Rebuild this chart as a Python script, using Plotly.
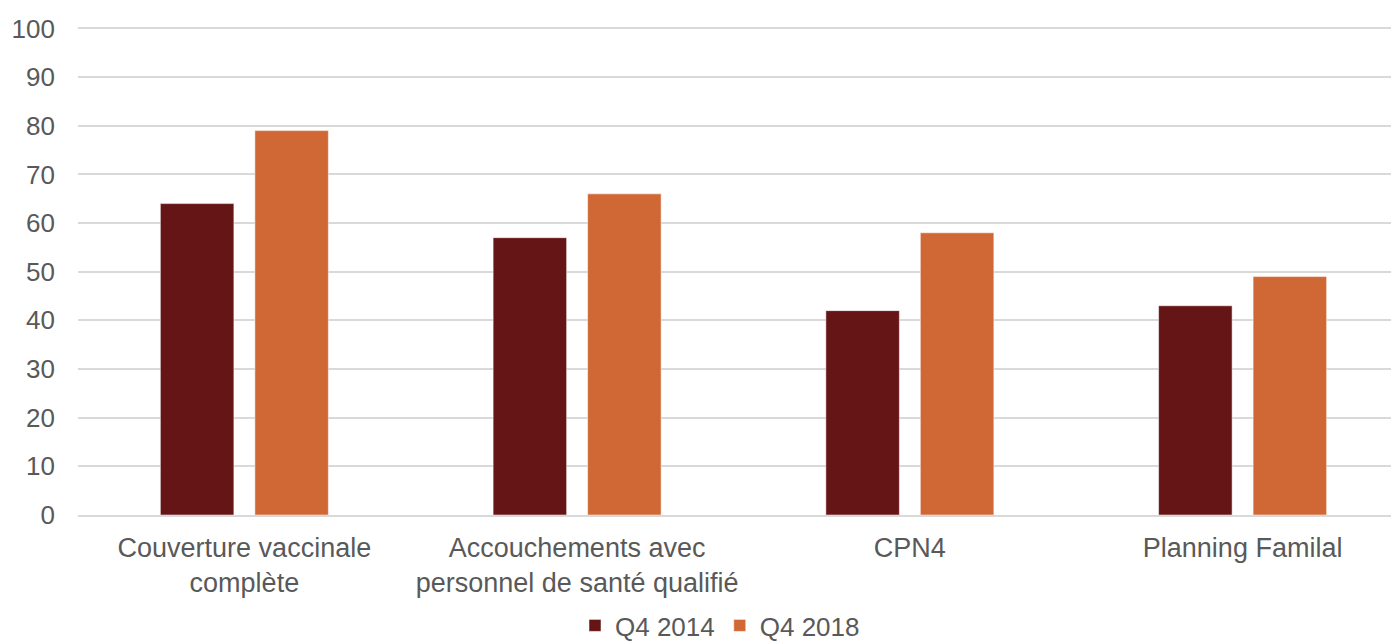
import plotly.graph_objects as go

categories = ["Couverture vaccinale<br>complète",
              "Accouchements avec<br>personnel de santé qualifié",
              "CPN4",
              "Planning Familal"]
series_names = ["Q4 2014", "Q4 2018"]
values_2014 = [64, 57, 42, 43]
values_2018 = [79, 66, 58, 49]
colors = ["#661517", "#D06835"]
y_ticks = list(range(0, 101, 10))

FONT = "Arial, 'Liberation Sans', sans-serif"
GREY = "#595959"

fig = go.Figure()
for name, vals, col in zip(series_names, [values_2014, values_2018], colors):
    fig.add_trace(go.Bar(
        x=categories, y=vals, name=name,
        marker=dict(color=col, line=dict(color="rgba(255,255,255,0.5)", width=1)),
    ))

fig.update_layout(
    width=1391, height=634,
    margin=dict(l=70, r=0, t=17.6, b=127, autoexpand=False),
    paper_bgcolor="white", plot_bgcolor="white",
    barmode="group", bargap=0.432, bargroupgap=0.222,
    font=dict(family=FONT, size=26, color=GREY),
    showlegend=True,
    legend=dict(orientation="h", x=0.486, xanchor="center", y=-0.226, yanchor="middle",
                font=dict(size=26, color=GREY), bgcolor="rgba(0,0,0,0)"),
    xaxis=dict(range=[-0.5, 3.47], showgrid=False, showline=True, linecolor="#d9d9d9",
               linewidth=1.5, ticks="", ticklabelstandoff=8,
               tickfont=dict(size=27, color=GREY)),
    yaxis=dict(range=[0, 100.5], tickvals=y_ticks, showgrid=True, gridcolor="#d9d9d9",
               gridwidth=1.5, zeroline=False, showline=False, ticks="",
               ticklabelstandoff=22, tickfont=dict(size=26, color=GREY)),
)

fig.write_html("out.html")
